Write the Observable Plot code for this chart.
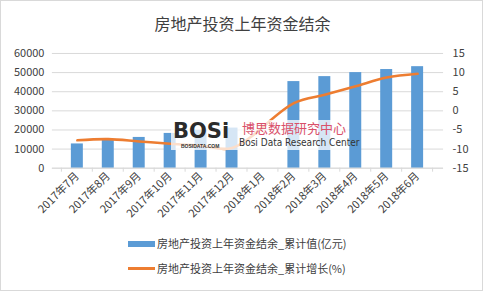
<!DOCTYPE html>
<html><head><meta charset="utf-8">
<script src="https://cdn.jsdelivr.net/npm/d3@7"></script>
<script src="https://cdn.jsdelivr.net/npm/@observablehq/plot@0.6"></script>
<style>
body{margin:0;background:#fff;font-family:"Noto Sans CJK SC","Noto Sans",sans-serif;}
#wrap{position:relative;width:483px;height:291px;box-sizing:border-box;border:1px solid #d9d9d9;overflow:hidden;}
#title{position:absolute;left:0;top:10px;width:483px;text-align:center;font-size:16px;color:#404040;}
#chart{position:absolute;left:-1px;top:39px;}
.leg{position:absolute;left:156px;font-size:11px;color:#404040;white-space:nowrap;}
.sw{position:absolute;}
#wm{position:absolute;left:170px;top:119px;width:178px;height:30px;background:rgba(255,255,255,0.75);}
#wm div{position:absolute;white-space:nowrap;line-height:1;}
</style></head>
<body><div id="wrap">
<div id="title">房地产投资上年资金结余</div>
<div id="chart"></div>
<div id="wm">
 <div style="left:2px;top:1px;font:900 21px/1 'DejaVu Sans',sans-serif;height:21px;color:#2b2b2b;letter-spacing:0px;">BOSi</div>
 <div style="left:71px;top:1px;font-size:13px;color:#d9506a;">博思数据研究中心</div>
 <div style="left:68px;top:17px;font:10px 'Liberation Sans Narrow','DejaVu Sans Condensed',sans-serif;color:#333;">Bosi Data Research Center</div>
 <div style="left:10px;top:24px;font:bold 5px/1 sans-serif;color:#333;">BOSIDATA.COM</div>
</div>
<div class="sw" style="left:127px;top:240px;width:27px;height:6px;background:#5B9BD5;"></div>
<div class="leg" style="top:234px;">房地产投资上年资金结余_累计值(亿元)</div>
<div class="sw" style="left:127px;top:266px;width:27px;height:3px;background:#ED7D31;"></div>
<div class="leg" style="top:259px;">房地产投资上年资金结余_累计增长(%)</div>
</div>
<script>
const months = ["2017年7月","2017年8月","2017年9月","2017年10月","2017年11月","2017年12月","2018年1月","2018年2月","2018年3月","2018年4月","2018年5月","2018年6月"];
const values = [12700,14600,16100,18200,19800,21000,null,45300,47900,50000,51600,53100];
const growth = [-7.7,-7.4,-8.0,-8.6,-9.1,-9.7,null,2.0,4.2,6.4,8.7,9.7];
const leftTicks = [0,10000,20000,30000,40000,50000,60000];
const rightTicks = [-15,-10,-5,0,5,10,15];

const toLeft = v => (v + 15) / 30 * 60000;
const bars = months.map((m,i)=>({m, v: values[i]})).filter(d=>d.v!=null);
const line = months.map((m,i)=>({m, g: growth[i]})).filter(d=>d.g!=null);

const chart = Plot.plot({
  width: 483, height: 190,
  marginLeft: 52, marginRight: 39, marginTop: 13, marginBottom: 62,
  style: {fontFamily: '"Noto Sans CJK SC","Noto Sans",sans-serif', fontSize: "11px", color: "#404040", background: "transparent"},
  x: {domain: months, padding: 0.6, label: null},
  y: {domain: [0, 60000], label: null},
  marks: [
    Plot.gridY(leftTicks, {stroke: "#d9d9d9", strokeOpacity: 1}),
    Plot.barY(bars, {x: "m", y: "v", fill: "#5B9BD5"}),
    Plot.line(line, {x: "m", y: d => toLeft(d.g), stroke: "#ED7D31", strokeWidth: 2.6, curve: "catmull-rom"}),
    Plot.ruleY([0], {stroke: "#d9d9d9"}),
    Plot.axisY(leftTicks, {anchor: "left", tickSize: 0, tickPadding: 8, label: null, tickFormat: d => String(d), fontSize: 11}),
    Plot.axisY(rightTicks.map(toLeft), {anchor: "right", tickSize: 0, tickPadding: 9, label: null, textAnchor: "start", tickFormat: d => String(Math.round(d / 2000 - 15)), fontSize: 11}),
    Plot.axisX({tickRotate: -45, tickSize: 0, tickPadding: 6, label: null, fontSize: 11})
  ]
});
document.getElementById("chart").appendChild(chart);

// category boundary ticks drawn via the x scale
const xs = chart.scale("x");
const svg = d3.select(chart);
const y0 = chart.scale("y").apply(0);
const gap = (xs.step - xs.bandwidth) / 2;
const bounds = months.map(m => xs.apply(m) - gap);
bounds.push(xs.apply(months[months.length-1]) + xs.bandwidth + gap);
svg.append("g").selectAll("line").data(bounds).join("line")
  .attr("x1", d => d).attr("x2", d => d).attr("y1", y0).attr("y2", y0 + 4)
  .attr("stroke", "#d9d9d9");
</script>
</body></html>
